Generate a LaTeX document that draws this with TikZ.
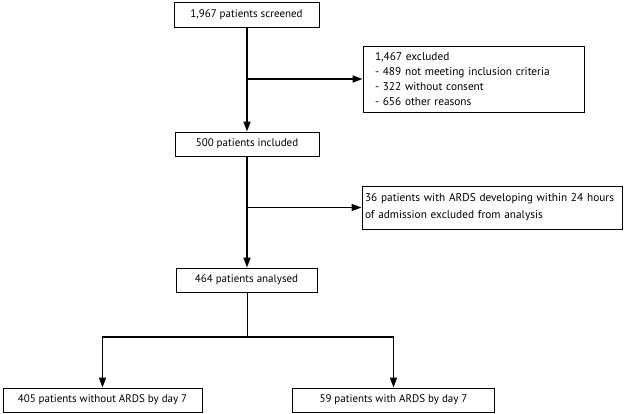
\documentclass[tikz,border=0pt]{standalone}
\usepackage{fontspec}
\setmainfont{PT Sans}
\usetikzlibrary{arrows.meta}
\begin{document}
\begin{tikzpicture}[x=1pt,y=-1pt,
  box/.style={draw,line width=0.9pt,inner sep=0pt,font=\fontsize{11}{15}\selectfont,anchor=center},
  sidebox/.style={box,font=\fontsize{11.3}{15}\selectfont,align=left},
  arr/.style={line width=1.5pt,-{Triangle[length=10pt,width=7pt]}},
  thin/.style={line width=0.9pt}]
\useasboundingbox (0,0) rectangle (625,414);
\node[box,minimum width=145pt,minimum height=25pt] (scr) at (246.5,14.5) {1,967 patients screened};
\node[sidebox,minimum width=221pt,minimum height=66pt,text width=197pt] (exc) at (473.5,79) {1,467 excluded\\- 489 not meeting inclusion criteria\\- 322 without consent\\- 656 other reasons};
\node[box,minimum width=144pt,minimum height=24pt] (inc) at (247,144) {500 patients included};
\node[sidebox,font=\fontsize{11.3}{17}\selectfont,minimum width=260pt,minimum height=43pt,text width=254pt] (ards) at (492,207.5) {\mbox{36 patients with ARDS developing within 24 hours}\\of admission excluded from analysis};
\node[box,minimum width=141pt,minimum height=24pt] (ana) at (246.5,280) {464 patients analysed};
\node[box,minimum width=199pt,minimum height=24pt] (no) at (102.5,400) {405 patients without ARDS by day 7};
\node[box,minimum width=202pt,minimum height=24pt] (yes) at (393.5,400) {59 patients with ARDS by day 7};
\coordinate (j1) at (247,79);
\coordinate (j2) at (247,207.5);
\coordinate (j3) at (247,337);
\coordinate (jl) at (102.5,337);
\coordinate (jr) at (393.5,337);
\draw[arr] (scr.south -| j1) -- (inc.north -| j1);
\draw[arr] (j1) -- (exc.west);
\draw[arr] (inc.south -| j2) -- (ana.north -| j2);
\draw[arr] (j2) -- (ards.west);
\draw[thin] (ana.south -| j3) -- (j3);
\draw[arr] (j3) -- (jl) -- (no.north);
\draw[arr] (j3) -- (jr) -- (yes.north);
\end{tikzpicture}
\end{document}
